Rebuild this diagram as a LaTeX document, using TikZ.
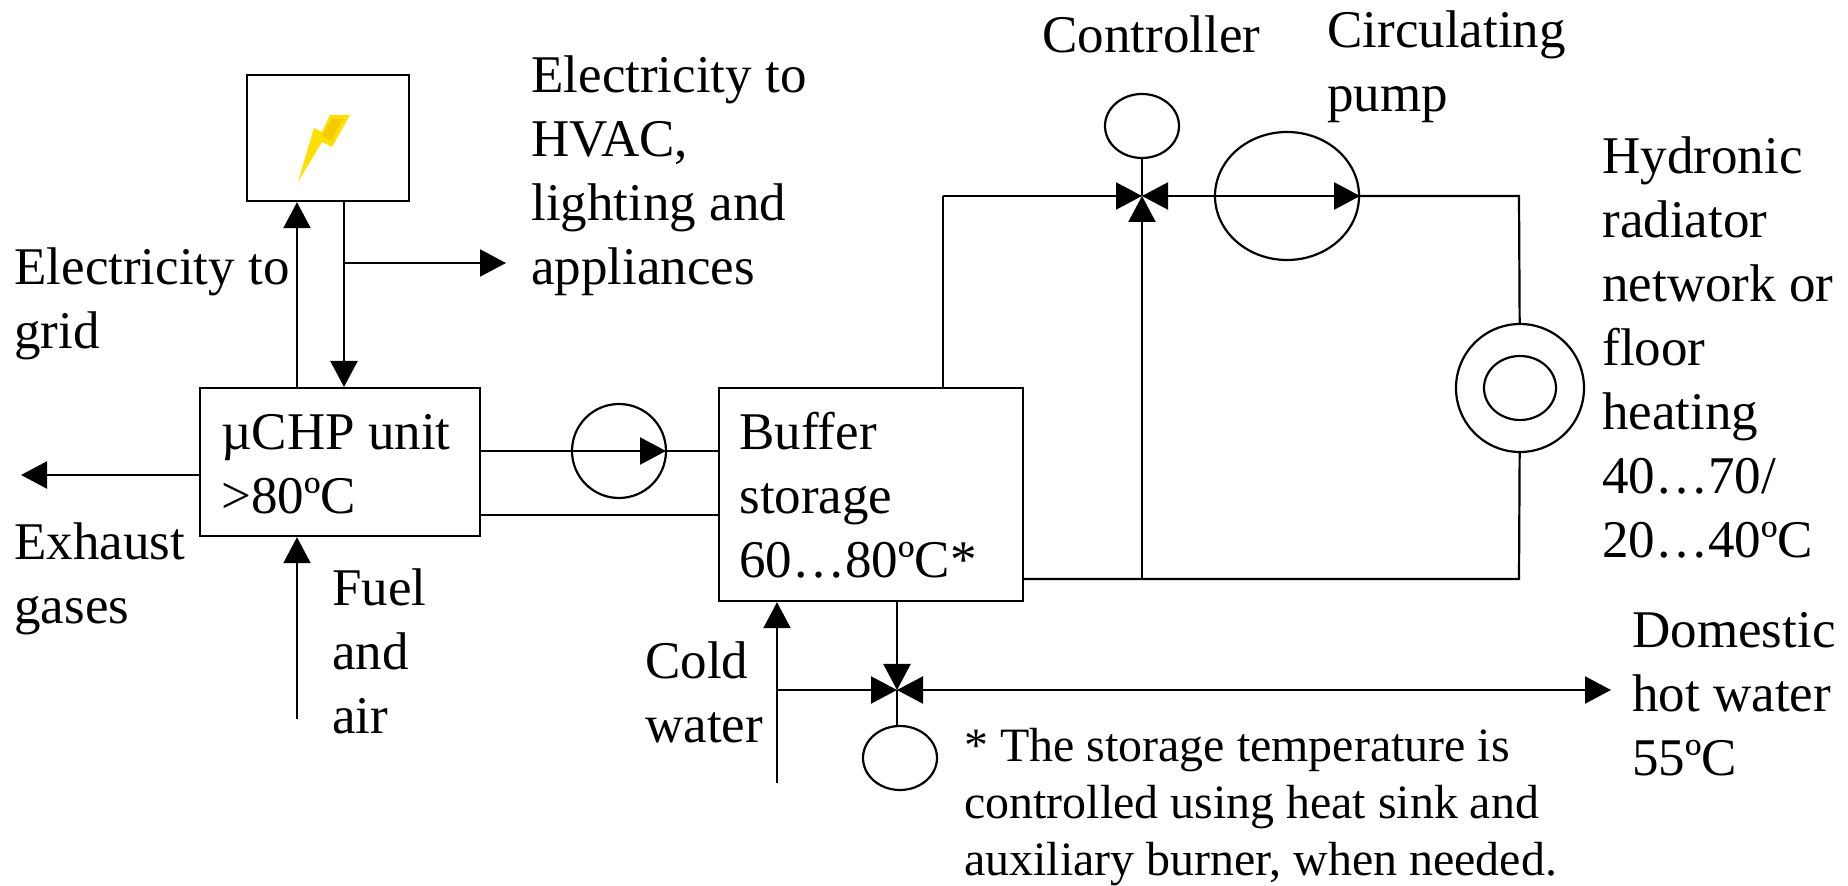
\documentclass[tikz,border=0pt]{standalone}
\usepackage{fontspec}
\setmainfont{Liberation Serif}
\usetikzlibrary{ arrows.meta, calc, shapes.geometric }
\definecolor{boltouter}{HTML}{FFDF00}
\definecolor{boltinner}{HTML}{F7C900}
\tikzset{
>={Triangle[length=13pt,width=13.5pt]}, % makes the arrow heads bold
every node/.style={inner sep=0pt},
unit/.style={draw, line width=1.1pt, minimum width=#1, anchor=north west},
ring/.style={draw, line width=1.1pt, ellipse, minimum width=#1},
pipe/.style={line width=1.1pt},
lbl/.style={anchor=north west, align=left, font=\fontsize{26.5}{32}\selectfont},
note/.style={anchor=north west, align=left, font=\fontsize{23.95}{28.5}\selectfont},
}

\begin{document}
\begin{tikzpicture}[x=0.5pt, y=-0.5pt]
  \useasboundingbox (0,0) rectangle (1848,886);

  % boxes
  \node[unit=81pt, minimum height=63pt] (meter) at (246,74) {};
  \node[unit=140pt, minimum height=74pt] (chp) at (199,387) {};
  \node[unit=152pt, minimum height=106.5pt] (buffer) at (718,387) {};

  % circles
  \node[ring=47pt, minimum height=47pt] (feedpump) at (619,451) {};
  \node[ring=37pt, minimum height=32pt] (controller) at (1142,126) {};
  \node[ring=72pt, minimum height=64pt] (circpump) at (1287,196) {};
  \node[ring=64pt, minimum height=64pt] (radiator) at (1520,388) {};
  \node[ring=36pt, minimum height=32pt] (radcore) at (1520,388) {};
  \node[ring=37pt, minimum height=32pt] (dhwctrl) at (900,758) {};

  % lightning bolt
  \fill[boltouter] (298,182) -- (314,128) -- (322,132) -- (330,115) -- (350,115)
    -- (332,147) -- (322,142) -- cycle;
  \fill[boltinner] (332,119) -- (343,119) -- (331,141) -- (322,136) -- cycle;

  % junctions
  \coordinate (valve) at (1142,196);
  \coordinate (dhwvalve) at (897,690);
  \coordinate (toptee) at (943,196);
  \coordinate (retbend) at (1519,579);
  \coordinate (rettee) at (1142,579);
  \coordinate (topbend) at (1519,196);
  \coordinate (elecend) at (506,263);
  \coordinate (electee) at (344,263);
  \coordinate (exhaustend) at (21,475);
  \coordinate (fuelstart) at (297,719);
  \coordinate (coldstart) at (777,783);
  \coordinate (coldtee) at (777,690);
  \coordinate (dhwend) at (1611,690);
  \coordinate (flowtip) at (666,451);

  % left part
  \draw[pipe,->] (chp.north west -| 297,0) -- (meter.south west -| 297,0);
  \draw[pipe,->] (meter.south west -| 344,0) -- (chp.north west -| 344,0);
  \draw[pipe,->] (electee) -- (elecend);
  \draw[pipe,->] (chp.west |- exhaustend) -- (exhaustend);
  \draw[pipe,->] (fuelstart) -- (chp.south west -| fuelstart);

  % boiler loop
  \draw[pipe,->] (chp.east |- flowtip) -- (flowtip);
  \draw[pipe] (flowtip) -- (buffer.west |- flowtip);
  \draw[pipe] (chp.east |- 0,515) -- (buffer.west |- 0,515);

  % heating loop
  \draw[pipe] (buffer.north west -| toptee) -- (toptee);
  \draw[pipe,->] (toptee) -- (valve);
  \draw[pipe] (controller) -- (valve);
  \draw[pipe,<->] (valve) -- (circpump.east);
  \draw[pipe] (circpump.east) -- (topbend) -- (radiator);
  \draw[pipe] (radiator) -- (retbend) -- (buffer.east |- retbend);
  \draw[pipe,->] (rettee) -- (valve);

  % hot water
  \draw[pipe,->] (buffer.south west -| dhwvalve) -- (dhwvalve);
  \draw[pipe,->] (coldstart) -- (buffer.south west -| coldstart);
  \draw[pipe,->] (coldtee) -- (dhwvalve);
  \draw[pipe,<->] (dhwvalve) -- (dhwend);
  \draw[pipe] (dhwvalve) -- (dhwvalve |- dhwctrl.north);

  % texts
  \node[lbl] (tcontroller) at (1042,15) {Controller};
  \node[lbl] (tcirc) at (1327,10) {Circulating\\pump};
  \node[lbl] (thydro) at (1602,136) {Hydronic\\radiator\\network or\\floor\\heating\\40…70/\\20…40ºC};
  \node[lbl] (thvac) at (531,55) {Electricity to\\HVAC,\\lighting and\\appliances};
  \node[lbl] (tgrid) at (14,247) {Electricity to\\grid};
  \node[lbl] (tchp) at (221,414) {µCHP unit\\>80ºC};
  \node[lbl] (tbuffer) at (739,412) {Buffer\\storage\\60…80ºC*};
  \node[lbl] (texhaust) at (14,522) {Exhaust\\gases};
  \node[lbl] (tfuel) at (332,568) {Fuel\\and\\air};
  \node[lbl] (tcold) at (645,641) {Cold\\water};
  \node[lbl] (tdhw) at (1632,612) {Domestic\\hot water\\55ºC};
  \node[note] (tnote) at (964,728) {* The storage temperature is\\controlled using heat sink and\\auxiliary burner, when needed.};
\end{tikzpicture}
\end{document}
